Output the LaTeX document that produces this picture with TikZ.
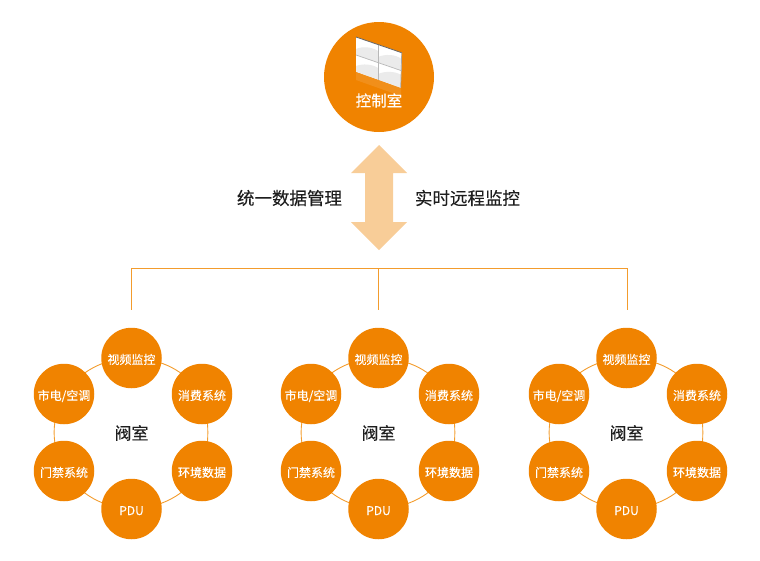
\documentclass[tikz,border=0pt]{standalone}
\usepackage{fontspec}
\setmainfont{Noto Sans CJK SC}
\newfontfamily\heavyfont[FakeBold=0.2]{Noto Sans CJK SC}
\usetikzlibrary{backgrounds}
\definecolor{brandorange}{HTML}{F08300}
\definecolor{linkorange}{HTML}{F39C2D}
\definecolor{arroworange}{HTML}{F8CD98}
\definecolor{labeldark}{HTML}{1E1E1E}
\tikzset{
  x=1pt,y=-1pt,
  unitnode/.style={circle,fill=brandorange,draw=none,minimum size=60.5pt,inner sep=0pt,text=white,text height=12pt,text depth=0pt,font=\fontsize{12}{14}\selectfont\heavyfont},
  ringlink/.style={draw=linkorange,line width=0.9pt},
  treelink/.style={draw=linkorange,line width=0.9pt},
  roomlabel/.style={text=labeldark,inner sep=0pt,font=\fontsize{17}{20}\selectfont\heavyfont},
  sidelabel/.style={text=labeldark,inner sep=0pt,font=\fontsize{17.5}{20}\selectfont\heavyfont},
  panel/.style={fill=white},
  gloss/.style={fill=black!8},
  seam/.style={draw=black!28,line width=0.7pt},
}
\begin{document}
\begin{tikzpicture}
\useasboundingbox (0,0) rectangle (760,560);
% control room
\node[circle,fill=brandorange,minimum size=110pt,inner sep=0pt] (ctrl) at (379,77) {};
\fill[white,opacity=0.10] (356,72) -- (401,88) -- (401,96) -- (356,80) -- cycle;
\fill[panel] (356,37) -- (401.7,52.7) -- (400.7,87.7) -- (356,71.7) -- cycle;
\fill[gloss] (356,49) .. controls (363,46) and (372,47) .. (378,51) -- (378,62.5) -- (356,55) -- cycle;
\fill[gloss] (378,57) .. controls (385,54) and (395,54) .. (401.5,59) -- (401.3,70.7) -- (378,62.5) -- cycle;
\fill[gloss] (356,66) .. controls (363,63.5) and (372,64) .. (378,68) -- (378,79.5) -- (356,71.7) -- cycle;
\fill[gloss] (378,74) .. controls (385,71) and (395,71) .. (401,75) -- (400.7,87.7) -- (378,79.5) -- cycle;
\draw[seam] (378,45) -- (378,79.5);
\draw[seam] (356,55) -- (401.5,70.7);
\draw[black!60,line width=0.8pt] (356,37) -- (401.7,52.7);
\draw[black!35,line width=0.7pt] (401.7,52.7) -- (400.7,87.7);
\node[text=white,inner sep=0pt,font=\fontsize{15.5}{18}\selectfont\heavyfont] (ctrltext) at (379,100.5) {控制室};
% double arrow
\fill[arroworange] (379,145) -- (407,173) -- (393,173) -- (393,222) -- (407,222) -- (379,250) -- (351,222) -- (365,222) -- (365,173) -- (351,173) -- cycle;
\node[sidelabel] (lefttext) at (289.5,198) {统一数据管理};
\node[sidelabel] (righttext) at (467.5,198) {实时远程监控};
% tree
\coordinate (treeL) at (131,268);
\coordinate (treeM) at (378.5,268);
\coordinate (treeR) at (627,268);
\coordinate (dropL) at (131,310);
\coordinate (dropM) at (378.5,310);
\coordinate (dropR) at (627,310);
\draw[treelink] (treeL) -- (treeR);
\draw[treelink] (treeL) -- (dropL);
\draw[treelink] (treeM) -- (dropM);
\draw[treelink] (treeR) -- (dropR);
% clusters
\foreach \pre/\cx in {a/131.5,b/378.5,c/626.5}{
  \node[roomlabel] (\pre room) at (\cx,433) {阀室};
  \node[unitnode] (\pre n1) at (\cx,358) {视频监控};
  \node[unitnode] (\pre n2) at (\cx+70.5,394) {消费系统};
  \node[unitnode] (\pre n3) at (\cx+70.5,471) {环境数据};
  \node[unitnode] (\pre n4) at (\cx,509) {PDU};
  \node[unitnode] (\pre n5) at (\cx-67.5,471) {门禁系统};
  \node[unitnode] (\pre n6) at (\cx-67.5,394) {市电/空调};
  \begin{pgfonlayer}{background}
  \draw[ringlink] (\pre n1.center) to[bend left=25] (\pre n2.center);
  \draw[ringlink] (\pre n2.center) to[bend left=15] (\pre n3.center);
  \draw[ringlink] (\pre n3.center) to[bend left=25] (\pre n4.center);
  \draw[ringlink] (\pre n4.center) to[bend left=25] (\pre n5.center);
  \draw[ringlink] (\pre n5.center) to[bend left=26] (\pre n6.center);
  \draw[ringlink] (\pre n6.center) to[bend left=25] (\pre n1.center);
  \end{pgfonlayer}
}
\end{tikzpicture}
\end{document}
